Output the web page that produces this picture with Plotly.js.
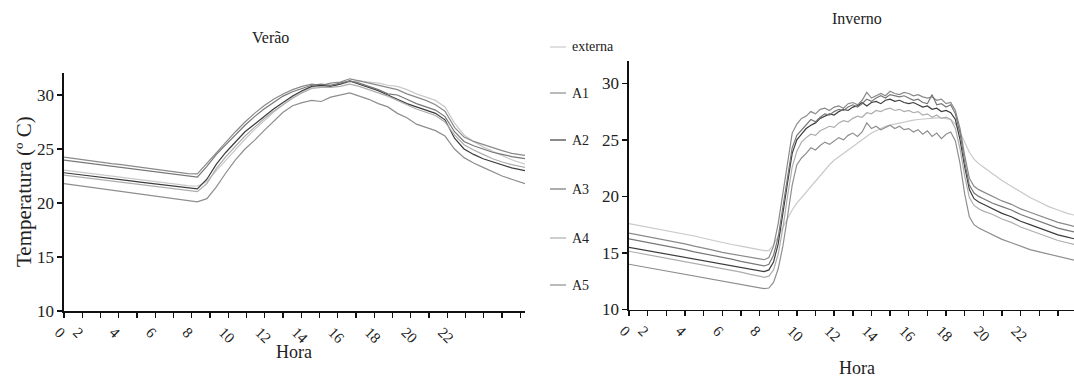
<!DOCTYPE html>
<html><head><meta charset="utf-8">
<script src="https://cdn.plot.ly/plotly-3.0.1.min.js"></script>
<style>html,body{margin:0;padding:0;background:#fff}#chart{width:1074px;height:379px}</style>
</head><body><div id="chart"></div>
<script>
const seriesNames = ['externa','A1','A2','A3','A4','A5'];
const seriesColors = ['#c9c9c9','#8a8a8a','#3c3c3c','#777777','#adadad','#8e8e8e'];

const xTickVals = [0,1,2,3,4,5,6,7,8,9,10,11,12,13,14,15,16,17,18,19,20,21,22,23,24,25];
const xTickText = ['0','2','','4','','6','','8','','10','','12','','14','','16','','18','','20','','22','','','',''];
const yTickVals = [10,15,20,25,30];

// Verão (summer)
const veraoHora = [0,0.5,1,1.5,2,2.5,3,3.5,4,4.5,5,5.5,6,6.5,7,7.5,8,8.5,9,9.5,10,10.5,11,11.5,12,12.5,13,13.5,14,14.5,15,15.5,16,16.5,17,17.5,18,18.5,19,19.5,20,20.5,21,21.5,22,22.5,23,23.5,24.2];
const veraoExterna = [23.04,22.93,22.82,22.71,22.6,22.48,22.37,22.26,22.15,22.04,21.93,21.82,21.7,21.6,21.55, 22.0,23.0,24.0,25.0,25.9,26.8,27.6,28.4,29.1,29.8,30.3,30.7,30.8,30.9,31.0,31.2,31.3,31.2,31.1,30.9,30.8,30.5,30.1,29.8,29.5,28.9,27.4,26.3,25.7,25.2,24.8,24.4,24.0, 23.6];
const veraoA1 = [24.25,24.12,24.0,23.9,23.78,23.65,23.55,23.43,23.32,23.2,23.1,22.98,22.86,22.72,22.7, 23.7,24.7,25.6,26.6,27.5,28.3,29.0,29.6,30.1,30.5,30.8,31.0,30.9,31.1,31.2,31.5,31.3,31.1,30.9,30.7,30.5,30.1,29.8,29.5,29.1,28.5,27.0,26.1,25.7,25.4,25.1,24.85,24.6, 24.4];
const veraoA2 = [22.8,22.7,22.6,22.49,22.38,22.27,22.15,22.04,21.93,21.82,21.7,21.6,21.48,21.36,21.3, 22.2,23.6,24.7,25.7,26.6,27.3,28.0,28.7,29.3,29.9,30.4,30.8,30.9,30.8,31.0,31.3,31.0,30.7,30.4,30.0,29.6,29.2,28.9,28.6,28.3,27.7,26.0,25.0,24.5,24.1,23.8,23.5,23.25, 23.0];
const veraoA3 = [23.97,23.86,23.75,23.64,23.53,23.42,23.3,23.2,23.1,22.98,22.86,22.75,22.62,22.48,22.4, 23.4,24.5,25.4,26.3,27.2,28.0,28.7,29.3,29.9,30.3,30.6,30.9,31.0,30.9,31.1,31.3,31.1,30.8,30.5,30.1,30.0,29.6,29.2,28.9,28.6,28.0,26.6,25.7,25.3,25.0,24.7,24.5,24.3, 24.1];
const veraoA4 = [22.58,22.47,22.36,22.25,22.14,22.03,21.92,21.8,21.7,21.58,21.46,21.35,21.22,21.1,21.05, 21.8,23.2,24.3,25.3,26.2,27.0,27.8,28.5,29.1,29.7,30.2,30.6,30.7,30.7,30.8,31.0,30.8,30.5,30.2,29.9,29.5,29.1,28.7,28.4,28.1,27.5,26.3,25.4,24.9,24.5,24.1,23.8,23.55, 23.3];
const veraoA5 = [21.8,21.68,21.56,21.45,21.34,21.22,21.1,20.98,20.86,20.75,20.62,20.5,20.36,20.2,20.1, 20.4,21.5,22.8,24.0,25.0,25.8,26.7,27.6,28.4,29.0,29.3,29.5,29.4,29.8,30.0,30.2,29.9,29.6,29.2,28.9,28.3,27.9,27.3,27.0,26.7,26.2,25.0,24.2,23.7,23.3,22.9,22.5,22.2, 21.8];

// Inverno (winter)
const invernoHora = [0,0.5,1,1.5,2,2.5,3,3.5,4,4.5,5,5.5,6,6.5,
  7,7.25,7.5,7.75,8,8.25,8.5,8.75,9,9.25,9.5,9.75,10,10.25,10.5,10.75,11,11.25,11.5,11.75,12,12.25,12.5,12.75,13,13.25,13.5,13.75,14,14.25,14.5,14.75,15,15.25,15.5,15.75,16,16.25,16.5,16.75,17,17.25,17.5,17.75,18,18.25,18.5,18.75,19,
  19.5,20,20.5,21,21.5,22,22.5,23,23.5,24];
const invernoExterna = [17.6,17.45,17.3,17.1,16.95,16.8,16.65,16.5,16.3,16.1,15.9,15.75,15.6,15.45,
  15.25,15.2,15.2,15.7,16.5,17.3,18.0,18.8,19.4,19.9,20.4,20.9,21.4,21.9,22.3,22.8,23.2,23.5,23.8,24.1,24.4,24.7,25.0,25.3,25.6,25.8,26.0,26.2,26.3,26.4,26.5,26.6,26.7,26.75,26.8,26.85,26.9,26.9,26.95,26.95,26.9,26.8,26.4,25.7,24.8,23.9,23.3,22.9,22.6,
  22.0,21.4,20.9,20.4,19.9,19.5,19.1,18.8,18.5,18.3];
const invernoA1 = [16.75,16.6,16.45,16.25,16.1,15.95,15.8,15.6,15.45,15.25,15.05,14.9,14.75,14.6,
  14.45,14.4,14.6,15.6,17.6,20.3,23.2,25.6,26.4,26.9,27.1,27.5,27.3,27.7,27.8,27.6,27.9,28.0,27.8,28.2,28.3,28.1,28.5,29.2,28.7,28.9,29.1,28.9,29.3,29.1,29.0,29.2,29.1,28.9,29.0,28.8,28.7,28.8,28.5,28.6,28.2,28.3,27.6,26.0,23.6,21.6,20.9,20.6,20.4,
  20.0,19.6,19.3,18.9,18.6,18.3,18.0,17.7,17.5,17.3];
const invernoA2 = [15.5,15.35,15.2,15.05,14.9,14.75,14.6,14.45,14.3,14.15,14.0,13.85,13.7,13.55,
  13.4,13.35,13.5,14.2,15.8,18.3,21.2,23.8,25.0,25.5,26.0,26.3,26.5,26.9,27.1,27.3,27.2,27.5,27.7,27.6,27.9,28.0,28.3,28.0,28.3,28.4,28.2,28.5,28.6,28.4,28.5,28.3,28.2,28.3,28.1,27.9,28.0,27.7,27.8,27.5,27.6,27.4,26.8,25.0,22.6,20.6,19.8,19.5,19.3,
  18.9,18.5,18.2,17.8,17.5,17.2,16.9,16.6,16.4,16.2];
const invernoA3 = [16.25,16.1,15.95,15.8,15.6,15.45,15.3,15.1,14.95,14.8,14.6,14.45,14.25,14.1,
  13.9,13.85,14.0,14.8,16.4,19.0,21.9,24.3,25.4,25.9,26.4,26.8,26.6,27.0,27.3,27.2,27.5,27.7,27.6,27.9,28.1,27.9,28.2,28.6,28.4,28.7,28.9,28.7,29.0,28.9,28.8,28.9,28.7,28.5,28.6,28.3,28.2,29.0,28.1,28.2,27.9,28.1,27.3,25.6,23.0,21.0,20.3,20.0,19.8,
  19.4,19.1,18.8,18.4,18.1,17.8,17.5,17.2,17.0,16.8];
const invernoA4 = [15.15,15.0,14.85,14.7,14.55,14.4,14.25,14.1,13.95,13.8,13.6,13.45,13.3,13.1,
  12.95,12.85,12.95,13.5,14.9,17.2,20.0,22.6,24.0,24.8,25.2,25.5,25.4,25.8,26.0,26.2,26.1,26.5,26.7,26.6,26.9,27.1,27.0,27.4,27.3,27.6,27.5,27.7,27.8,27.6,27.7,27.5,27.6,27.4,27.5,27.2,27.3,27.0,27.2,26.9,27.0,26.8,26.0,24.2,21.8,19.9,19.2,18.9,18.7,
  18.4,18.0,17.7,17.3,17.0,16.7,16.4,16.1,15.9,15.7];
const invernoA5 = [14.0,13.85,13.7,13.55,13.4,13.25,13.1,12.95,12.8,12.65,12.5,12.35,12.25,12.1,
  11.95,11.85,11.9,12.4,13.6,15.6,18.2,21.0,22.8,23.4,23.8,24.3,24.1,24.5,24.8,24.6,24.9,25.2,25.0,25.4,25.6,25.3,25.7,26.5,26.0,26.2,25.9,26.1,26.3,26.0,26.2,25.9,26.0,25.7,25.9,25.5,25.8,25.3,25.6,25.1,25.5,25.7,24.9,22.9,20.2,18.2,17.5,17.2,17.0,
  16.6,16.2,15.9,15.6,15.3,15.1,14.9,14.7,14.5,14.3];

const W = 1074, H = 379;
const px = x => x / W;
const py = y => 1 - y / H;
const FONT = 'Liberation Serif, Times New Roman, serif';

const veraoSeries = [veraoExterna, veraoA1, veraoA2, veraoA3, veraoA4, veraoA5];
const invernoSeries = [invernoExterna, invernoA1, invernoA2, invernoA3, invernoA4, invernoA5];

const traces = [];
seriesNames.forEach((name, i) => {
  traces.push({x: veraoHora, y: veraoSeries[i], name: name, xaxis: 'x', yaxis: 'y', mode: 'lines',
    line: {color: seriesColors[i], width: 1.2}, showlegend: false, hoverinfo: 'skip'});
});
seriesNames.forEach((name, i) => {
  traces.push({x: invernoHora, y: invernoSeries[i], name: name, xaxis: 'x2', yaxis: 'y2', mode: 'lines',
    line: {color: seriesColors[i], width: 1.2}, showlegend: false, hoverinfo: 'skip'});
});

// the summer panel's category axis is drawn slightly tighter than its data span
const veraoTickScale = 24.2 / 25.26;

function xAxis(domain, range, anchor, tickScale) {
  return {domain: domain, range: range, anchor: anchor, showgrid: false, zeroline: false,
    showline: true, linecolor: '#111', linewidth: 1.6, ticks: 'outside', ticklen: 5, tickwidth: 1.4,
    tickcolor: '#111', tickmode: 'array', tickvals: xTickVals.map(v => v * tickScale), ticktext: xTickText, tickangle: 45,
    ticklabelshift: -5,
    tickfont: {family: FONT, size: 15, color: '#222'}, fixedrange: true};
}
function yAxis(domain, anchor) {
  return {domain: domain, range: [10, 32], anchor: anchor, showgrid: false, zeroline: false,
    showline: true, linecolor: '#111', linewidth: 1.6, ticks: 'outside', ticklen: 5, tickwidth: 1.4,
    tickcolor: '#111', tickmode: 'array', tickvals: yTickVals, ticktext: yTickVals.map(String),
    tickfont: {family: FONT, size: 17, color: '#222'}, fixedrange: true};
}

function label(text, x, y, size, extra) {
  return Object.assign({text: text, x: px(x), y: py(y), xref: 'paper', yref: 'paper', showarrow: false,
    xanchor: 'center', yanchor: 'middle', font: {family: FONT, size: size, color: '#222'}}, extra || {});
}
const annotations = [
  label('Verão', 270, 38, 16),
  label('Inverno', 857, 18, 16),
  label('Temperatura (º C)', 24, 192, 21, {textangle: -90}),
  label('Hora', 294, 352, 18),
  label('Hora', 857, 368, 18)
];
const legendY = [47, 93, 140, 189, 238, 285];
const shapes = [];
seriesNames.forEach((name, i) => {
  annotations.push(label(name, 570, legendY[i], 14, {xanchor: 'left'}));
  shapes.push({type: 'line', xref: 'paper', yref: 'paper', x0: px(550), x1: px(566), y0: py(legendY[i]), y1: py(legendY[i]),
    line: {color: seriesColors[i], width: 1.2}});
});

const layout = {
  width: W, height: H, margin: {l: 0, r: 0, t: 0, b: 0}, paper_bgcolor: '#fff', plot_bgcolor: '#fff',
  showlegend: false, font: {family: FONT},
  xaxis: xAxis([px(64), px(525)], [0, 24.2], 'y', veraoTickScale),
  yaxis: yAxis([py(311), py(73.4)], 'x'),
  xaxis2: xAxis([px(629), 1], [0, 23.86], 'y2', 1),
  yaxis2: yAxis([py(309.5), py(60.7)], 'x2'),
  annotations: annotations, shapes: shapes
};
Plotly.newPlot('chart', traces, layout, {displayModeBar: false, staticPlot: true});
</script></body></html>
